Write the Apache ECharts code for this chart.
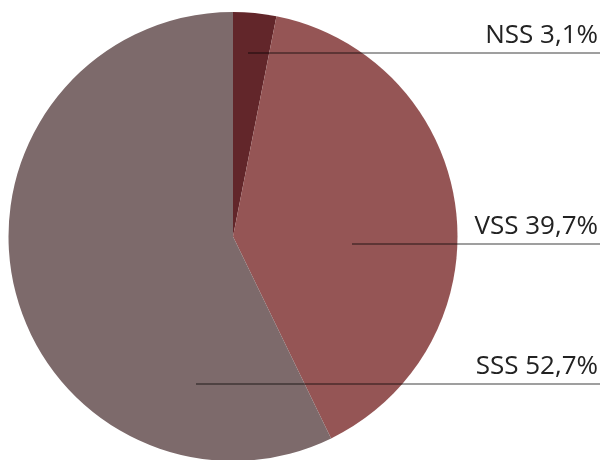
<!DOCTYPE html>
<html>
<head>
<meta charset="utf-8">
<script src="https://cdn.jsdelivr.net/npm/echarts@6/dist/echarts.min.js"></script>
<style>
  html, body { margin: 0; padding: 0; background: #fff; }
  #main { width: 604px; height: 460px; }
</style>
</head>
<body>
<div id="main"></div>
<script>
// data
var names = ['NSS', 'VSS', 'SSS'];
var values = [3.1, 39.7, 57.2];
var labels = ['3,1%', '39,7%', '52,7%'];
var colors = ['#62262a', '#955555', '#7d6a6b'];

// label line placement (start x, line y)
var lineStart = [248, 352, 196];
var lineY = [53, 244, 384];

var myChart = echarts.init(document.getElementById('main'));

var pieData = names.map(function (n, i) {
    return { name: n, value: values[i], itemStyle: { color: colors[i] } };
});

var option = {
    animation: false,
    series: [{
        // slices
        type: 'pie',
        center: [233, 236.5],
        radius: 224.5,
        startAngle: 90,
        data: pieData,
        itemStyle: { borderWidth: 0 },
        label: { show: false },
        labelLine: { show: false },
        silent: true
    }, {
        // labels + leader lines on top of the slices
        type: 'pie',
        z: 10,
        center: [233, 236.5],
        radius: 224.5,
        startAngle: 90,
        avoidLabelOverlap: false,
        silent: true,
        data: names.map(function (n, i) {
            return { name: n, value: values[i] };
        }),
        itemStyle: { color: 'rgba(0,0,0,0)', borderWidth: 0 },
        label: {
            show: true,
            overflow: 'none',
            formatter: function (p) { return p.name + ' ' + labels[p.dataIndex]; },
            fontFamily: 'Open Sans',
            fontSize: 26,
            color: '#222'
        },
        labelLine: {
            show: true,
            lineStyle: { color: 'rgba(0,0,0,0.5)', width: 1.5 }
        },
        labelLayout: function (params) {
            var i = params.dataIndex;
            return {
                x: 598,
                y: lineY[i] - 17,
                align: 'right',
                verticalAlign: 'middle',
                hideOverlap: false,
                labelLinePoints: [[lineStart[i], lineY[i]], [600, lineY[i]], [600, lineY[i]]]
            };
        }
    }]
};

myChart.setOption(option);
</script>
</body>
</html>
